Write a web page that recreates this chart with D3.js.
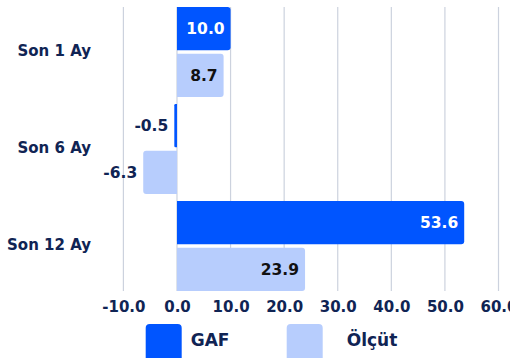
<!DOCTYPE html>
<html>
<head>
<meta charset="utf-8">
<script src="https://cdn.jsdelivr.net/npm/d3@7"></script>
<style>
  html, body { margin: 0; padding: 0; background: #fff; }
  svg { display: block; }
  text { font-family: "DejaVu Sans", sans-serif; font-weight: bold; }
</style>
</head>
<body>
<svg id="chart" width="510" height="358"></svg>
<script>
// Return periods and the two compared series
const categories = ["Son 1 Ay", "Son 6 Ay", "Son 12 Ay"];
const seriesNames = ["GAF", "Ölçüt"];
const gafValues = [10.0, -0.5, 53.6];
const olcutValues = [8.7, -6.3, 23.9];
const tickValues = [-10, 0, 10, 20, 30, 40, 50, 60];

const colors = { "GAF": "#0055ff", "Ölçüt": "#b7cdfd" };
const insideText = { "GAF": "#ffffff", "Ölçüt": "#111111" };
const navy = "#102454";
const gridColor = "#ccd2de";

// One-decimal format with a plain hyphen for negatives
const fmt = d3.formatLocale({ decimal: ".", thousands: ",", grouping: [3], currency: ["", ""], minus: "-" }).format(".1f");

const svg = d3.select("#chart");
const plot = { top: 7, bottom: 291 };

const x = d3.scaleLinear().domain([-10, 60]).range([123.4, 498.5]);
const y0 = d3.scaleBand().domain(categories).range([plot.top, plot.bottom]).paddingInner(0.072);
const y1 = d3.scaleBand().domain(seriesNames).range([0, y0.bandwidth()]).paddingInner(0.07);

const rows = categories.map((c, i) => ({
  category: c,
  values: [
    { series: "GAF", value: gafValues[i] },
    { series: "Ölçüt", value: olcutValues[i] }
  ]
}));

// Vertical grid lines
svg.append("g")
  .selectAll("line")
  .data(tickValues)
  .join("line")
  .attr("x1", d => x(d)).attr("x2", d => x(d))
  .attr("y1", plot.top).attr("y2", plot.bottom)
  .attr("stroke", gridColor)
  .attr("stroke-width", 1.2);

// Bar shape with rounded corners on the value end only
function barPath(x0, x1, yTop, h, r) {
  const w = Math.abs(x1 - x0);
  const s = x1 < x0 ? -1 : 1;
  r = Math.min(r, w / 2, h / 2);
  return `M${x0},${yTop}H${x1 - s * r}Q${x1},${yTop} ${x1},${yTop + r}` +
         `V${yTop + h - r}Q${x1},${yTop + h} ${x1 - s * r},${yTop + h}H${x0}Z`;
}

const groups = svg.append("g")
  .selectAll("g")
  .data(rows)
  .join("g")
  .attr("transform", d => `translate(0,${y0(d.category)})`);

groups.selectAll("path")
  .data(d => d.values)
  .join("path")
  .attr("d", d => barPath(x(0), x(d.value), y1(d.series), y1.bandwidth(), 3))
  .attr("fill", d => colors[d.series]);

// Value labels: inside the end of positive bars, outside to the left of negative ones
groups.selectAll("text.value")
  .data(d => d.values)
  .join("text")
  .attr("class", "value")
  .attr("x", d => x(d.value) - 6)
  .attr("y", d => y1(d.series) + y1.bandwidth() / 2)
  .attr("dy", "0.36em")
  .attr("text-anchor", "end")
  .attr("font-size", 15.5)
  .attr("fill", d => d.value >= 0 ? insideText[d.series] : navy)
  .text(d => fmt(d.value));

// Category labels
svg.append("g")
  .selectAll("text")
  .data(categories)
  .join("text")
  .attr("x", 91)
  .attr("y", d => y0(d) + y0.bandwidth() / 2 - 1.5)
  .attr("dy", "0.36em")
  .attr("text-anchor", "end")
  .attr("font-size", 15)
  .attr("fill", navy)
  .text(d => d);

// X axis tick labels
const xAxis = svg.append("g")
  .attr("transform", `translate(0,${plot.bottom})`)
  .call(d3.axisBottom(x).tickValues(tickValues).tickFormat(fmt).tickSize(0).tickPadding(10));
xAxis.select(".domain").remove();
xAxis.selectAll("text")
  .attr("font-size", 15)
  .attr("font-family", "DejaVu Sans")
  .attr("font-weight", "bold")
  .attr("fill", navy);

// Legend
const legendX = [145.7, 286.7];
const legend = svg.append("g")
  .selectAll("g")
  .data(seriesNames)
  .join("g")
  .attr("transform", (d, i) => `translate(${legendX[i]},324)`);
legend.append("rect")
  .attr("width", 36).attr("height", 38).attr("rx", 4)
  .attr("fill", d => colors[d]);
legend.append("text")
  .attr("x", (d, i) => i === 0 ? 45 : 60)
  .attr("y", 22)
  .attr("font-size", 17)
  .attr("fill", navy)
  .text(d => d);
</script>
</body>
</html>
